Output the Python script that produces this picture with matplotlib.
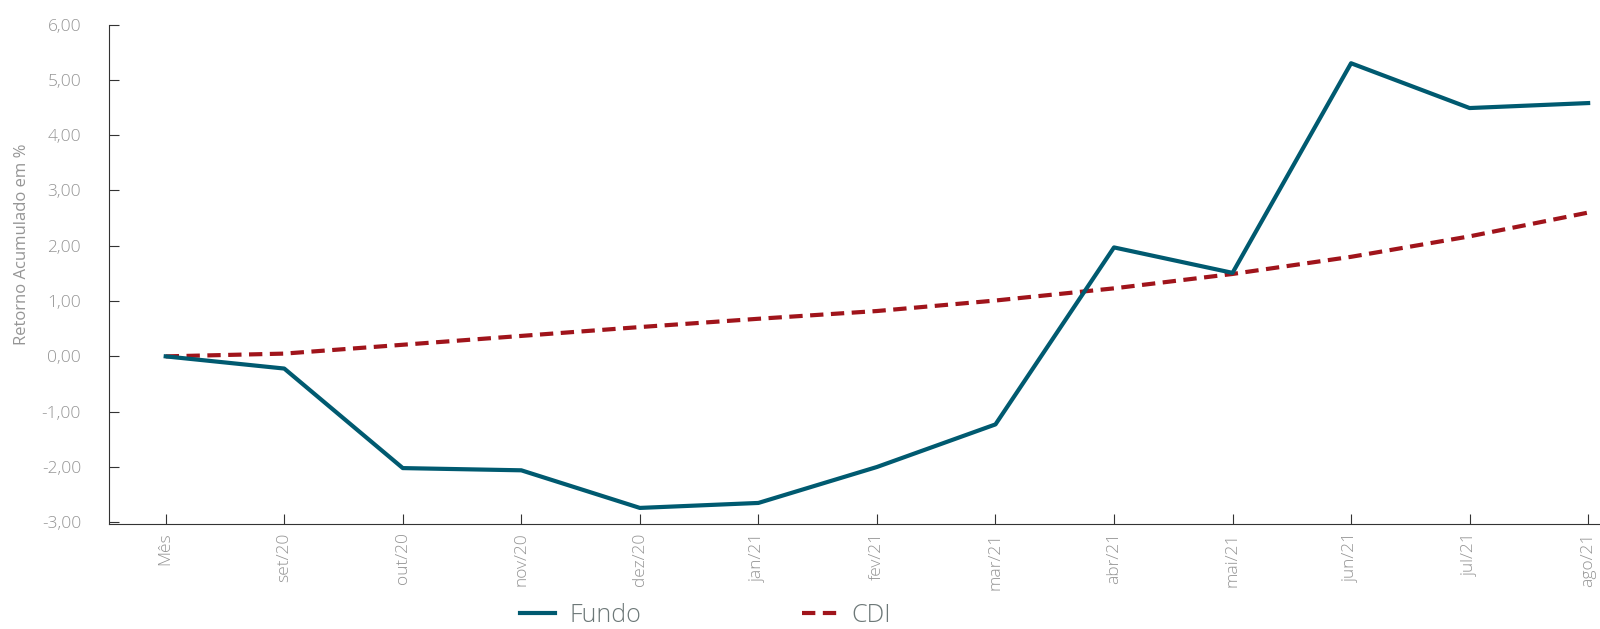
import matplotlib
matplotlib.use('Agg')
import matplotlib.pyplot as plt

plt.rcParams['font.family'] = ['Open Sans', 'DejaVu Sans']
plt.rcParams['font.weight'] = 'light'

meses = ['Mês', 'set/20', 'out/20', 'nov/20', 'dez/20', 'jan/21', 'fev/21',
         'mar/21', 'abr/21', 'mai/21', 'jun/21', 'jul/21', 'ago/21']
fundo = [0.00, -0.22, -2.02, -2.06, -2.74, -2.65, -2.00, -1.23, 1.97, 1.51, 5.30, 4.49, 4.58]
cdi = [0.00, 0.05, 0.21, 0.37, 0.53, 0.68, 0.82, 1.01, 1.23, 1.49, 1.80, 2.17, 2.60]
yticks = [-3, -2, -1, 0, 1, 2, 3, 4, 5, 6]

cinza = '#959595'

fig = plt.figure(figsize=(16, 6.29), dpi=100)
ax = fig.add_axes([0.068, 0.167, 0.932, 0.794])

x = list(range(len(meses)))
ax.plot(x, fundo, color='#005a70', lw=3, label='Fundo', zorder=3)
ax.plot(x, cdi, color='#a0141b', lw=3, ls=(0, (3.2, 1.8)), label='CDI', zorder=2)

ax.set_xlim(-0.48, 12.1)
ax.set_ylim(-3.03, 6)
ax.set_yticks(yticks)
ax.set_yticklabels([('%.2f' % v).replace('.', ',') for v in yticks])
ax.set_xticks(x)
ax.set_xticklabels(meses, rotation=90)

for s in ['top', 'right']:
    ax.spines[s].set_visible(False)
ax.spines['left'].set_color('#333333')
ax.spines['bottom'].set_color('#333333')
ax.tick_params(axis='both', direction='in', length=7, color='#333333',
               labelcolor=cinza, labelsize=12.5)
ax.tick_params(axis='y', pad=20)
ax.tick_params(axis='x', pad=6)

ax.set_ylabel('Retorno Acumulado em %', color=cinza, fontsize=12)
ax.yaxis.set_label_coords(-0.053, 0.56)

fig.legend(loc='center', bbox_to_anchor=(0.441, 0.022), ncol=2, frameon=False,
           fontsize=18, labelcolor='#6d7878', handlelength=1.4, columnspacing=6.4,
           handletextpad=0.6)

fig.savefig('out.png', dpi=100)
